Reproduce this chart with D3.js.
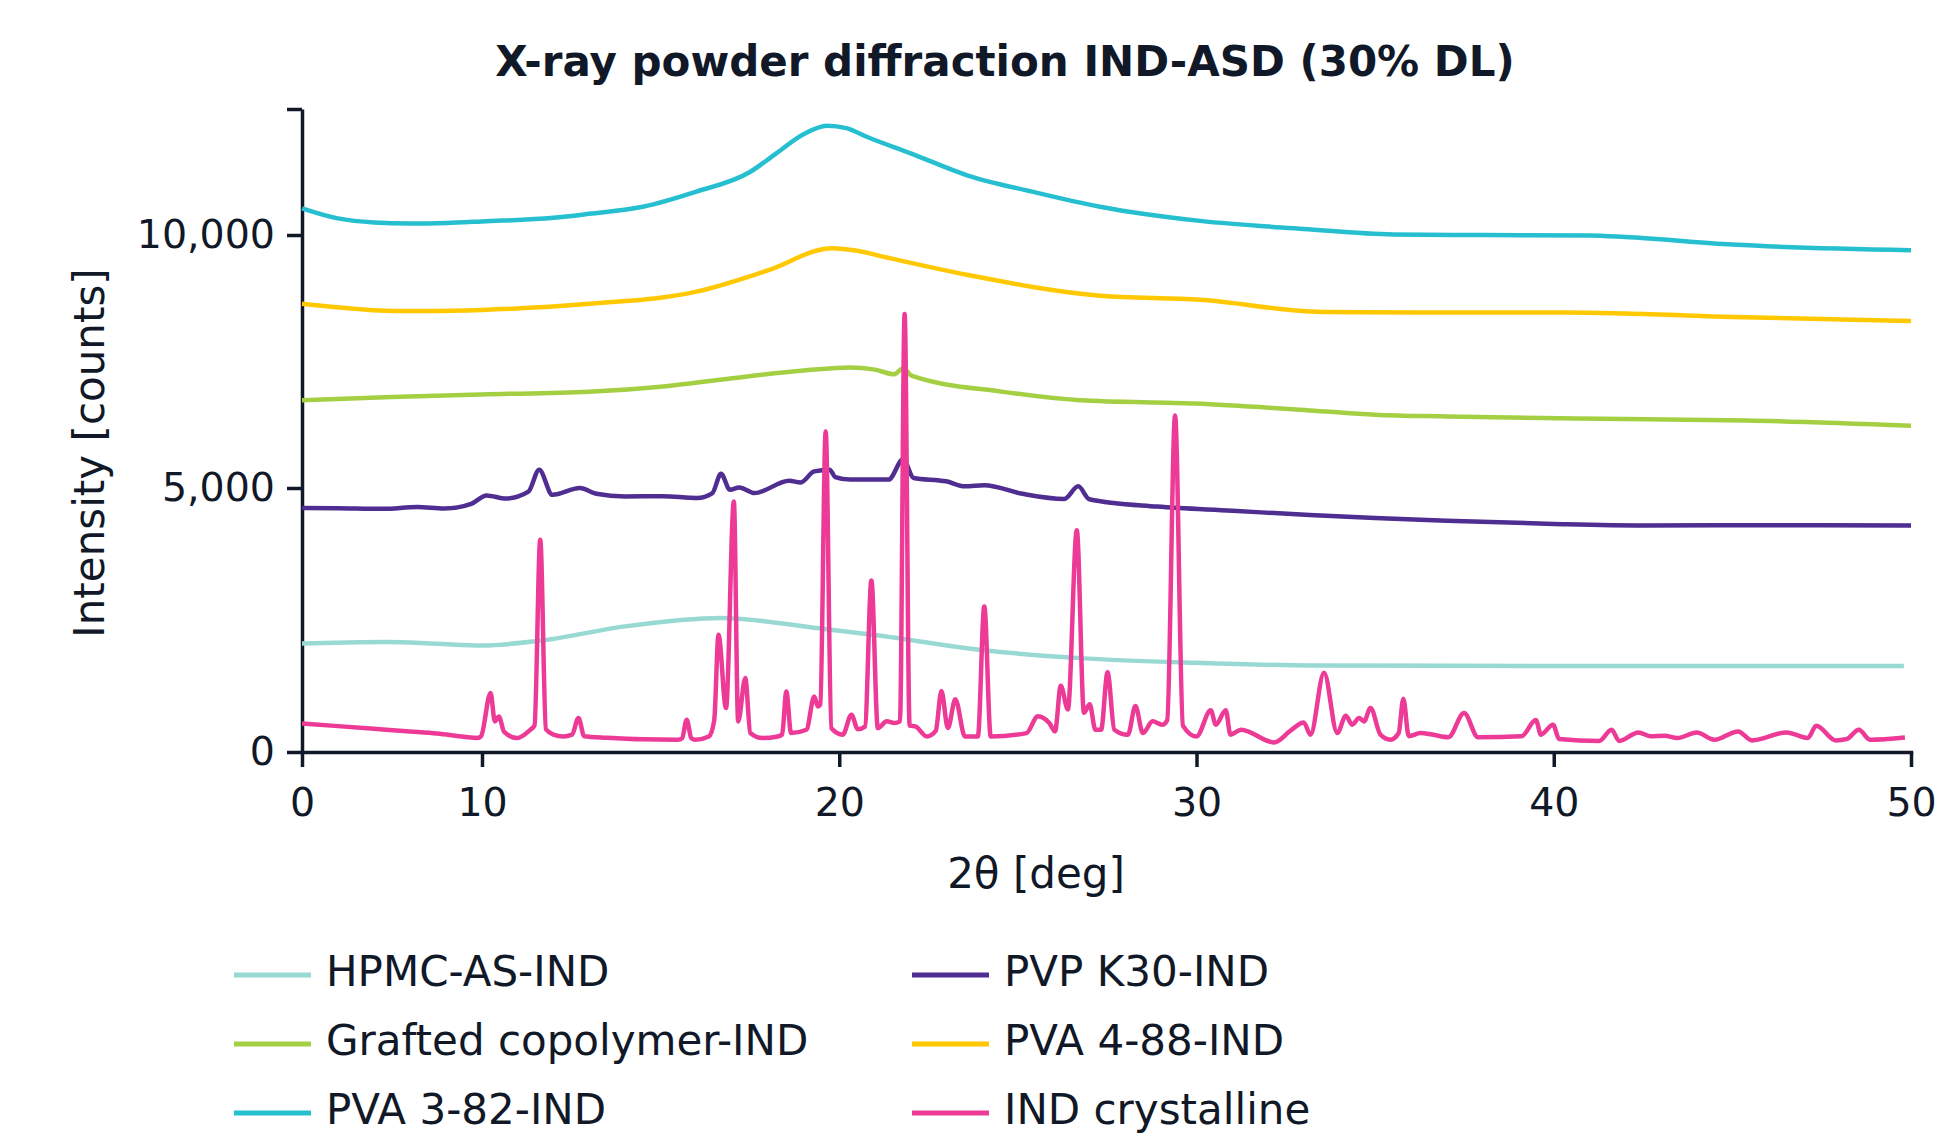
<!DOCTYPE html>
<html lang="en">
<head>
<meta charset="UTF-8">
<script src="https://d3js.org/d3.v7.min.js"></script>
<title>X-ray powder diffraction IND-ASD</title>
<style>
  body { margin: 0; background: #fff; }
  text { font-family: "DejaVu Sans", Verdana, sans-serif; fill: #111827; }
</style>
</head>
<body>
<svg width="1945" height="1136"></svg>
<script>
// series: [2θ, counts]
const hpmcAs = [
  [0, 2055], [2.5, 2075], [4.7, 2083], [7.5, 2050], [10, 2019], [11.7, 2114], [14, 2379],
  [16.7, 2538], [17.7, 2492], [19.35, 2348], [21.15, 2203], [24.06, 1926], [26.74, 1778],
  [29.96, 1689], [33.2, 1640], [40, 1630], [49.8, 1628]
];
const grafted = [
  [0, 6735], [5, 6800], [10, 6850], [13, 6900], [15, 7000], [17, 7170], [19, 7320],
  [20.31, 7383], [21.0, 7340], [21.54, 7248], [21.79, 7369], [22.02, 7220], [24.59, 6900],
  [26.74, 6735], [29.96, 6668], [33.17, 6534], [35, 6450], [37, 6413], [42, 6362], [45.4, 6335], [50, 6230]
];
const pva382 = [
  [0, 10530], [2, 10330], [4, 10250], [6, 10230], [8, 10240], [10, 10270], [12, 10340],
  [13, 10420], [14.5, 10560], [16, 10860], [17.5, 11250], [18.2, 11600], [19, 12000],
  [19.65, 12170], [20.2, 12120], [20.8, 11940], [22, 11620], [23.6, 11180], [25.4, 10860],
  [27.3, 10560], [30.1, 10280], [33, 10120], [35.5, 10010], [38, 10000], [41, 9990],
  [42, 9960], [45, 9810], [50, 9700]
];
const pvpK30 = [
  [0, 4620], [2, 4615], [4.5, 4605], [6.4, 4640], [7.9, 4610], [9.4, 4700], [10.13, 4860],
  [10.67, 4800], [11.3, 4930], [11.6, 5360], [11.97, 4870], [12.74, 5000], [13.2, 4890],
  [14, 4840], [15.06, 4845], [16.02, 4810], [16.45, 4905], [16.69, 5282], [16.94, 4967],
  [17.2, 5012], [17.63, 4905], [18.6, 5144], [18.92, 5110], [19.3, 5328], [19.73, 5361],
  [19.89, 5217], [20.3, 5166], [21.38, 5166], [21.79, 5567], [22.08, 5199], [22.99, 5132],
  [23.52, 5033], [24.06, 5053], [25.13, 4890], [26.3, 4793], [26.69, 5033], [27.0, 4788],
  [28.9, 4648], [31, 4570], [33.17, 4487], [35, 4430], [37, 4380], [40, 4320], [42.5, 4292],
  [45, 4295], [50, 4292]
];
const pva488 = [
  [0, 8640], [3, 8540], [5, 8500], [7, 8500], [10, 8520], [13, 8640], [16, 8880], [18, 9300],
  [19.8, 9740], [20.5, 9690], [21.3, 9560], [23.6, 9210], [27.3, 8800], [30.1, 8720],
  [33.5, 8480], [36, 8470], [40.4, 8470], [42, 8450], [45, 8380], [50, 8300]
];
const indCryst = [
  [0, 540], [2, 490], [4, 440], [6, 390], [7.5, 350], [9, 290], [9.75, 265], [9.95, 300],
  [10.24, 1117], [10.36, 580], [10.47, 674], [10.62, 380], [10.98, 265], [11.35, 420],
  [11.47, 500], [11.63, 4021], [11.79, 430], [12.0, 330], [12.27, 295], [12.52, 330],
  [12.7, 644], [12.86, 300], [13.5, 270], [14.5, 240], [15.49, 233], [15.6, 260], [15.73, 612],
  [15.86, 260], [15.97, 233], [16.35, 295], [16.5, 600], [16.62, 2222], [16.83, 833],
  [17.05, 4746], [17.17, 580], [17.37, 1402], [17.51, 360], [17.85, 265], [18.28, 295],
  [18.4, 330], [18.52, 1148], [18.65, 360], [19.08, 422], [19.3, 1053], [19.4, 864],
  [19.47, 900], [19.62, 6117], [19.78, 450], [20.1, 328], [20.34, 706], [20.52, 430],
  [20.72, 480], [20.9, 3250], [21.08, 453], [21.33, 581], [21.54, 549], [21.7, 580],
  [21.83, 8437], [21.97, 500], [22.13, 485], [22.45, 294], [22.7, 400], [22.86, 1157],
  [23.04, 453], [23.25, 998], [23.52, 294], [23.88, 294], [24.06, 2758], [24.24, 294],
  [25.24, 358], [25.56, 678], [25.88, 549], [26.04, 390], [26.2, 1254], [26.4, 805],
  [26.65, 4199], [26.85, 742], [27.01, 902], [27.17, 422], [27.33, 422], [27.51, 1509],
  [27.7, 422], [28.08, 326], [28.29, 869], [28.5, 358], [28.77, 581], [29.04, 517],
  [29.18, 600], [29.4, 6433], [29.62, 500], [30.0, 294], [30.4, 790], [30.54, 517],
  [30.82, 790], [30.95, 328], [31.25, 422], [32.17, 182], [32.64, 409], [33.0, 561],
  [33.19, 328], [33.57, 1500], [33.94, 360], [34.18, 688], [34.36, 517], [34.55, 644],
  [34.69, 580], [34.87, 835], [35.15, 328], [35.43, 233], [35.66, 360], [35.79, 1010],
  [35.94, 300], [36.27, 360], [36.6, 330], [37.05, 280], [37.49, 739], [37.88, 280],
  [39.1, 300], [39.5, 605], [39.64, 328], [39.98, 517], [40.15, 246], [41.27, 210],
  [41.62, 420], [41.83, 210], [42.37, 371], [42.7, 300], [43.1, 309], [43.46, 265],
  [44.0, 371], [44.5, 233], [45.16, 390], [45.55, 220], [46.52, 371], [47.11, 265],
  [47.35, 498], [47.89, 220], [48.2, 246], [48.54, 422], [48.85, 233], [49.83, 276]
];

const seriesNames = ['HPMC-AS-IND', 'PVP K30-IND', 'Grafted copolymer-IND', 'PVA 4-88-IND', 'PVA 3-82-IND', 'IND crystalline'];
const seriesColors = ['#99d9d4', '#4f2d91', '#a5cf43', '#ffc800', '#26bfd0', '#ec3a96'];
const seriesData = [hpmcAs, pvpK30, grafted, pva488, pva382, indCryst];
const drawOrder = [0, 2, 4, 3, 1, 5];

const xTicks = [0, 10, 20, 30, 40, 50];
const yTicks = [0, 5000, 10000, 12500];

let svg = d3.select('svg');
const ink = '#111827';

// axis scales (first x decade and upper y part are drawn compressed, as in the original)
let x = d3.scaleLinear().domain([0, 10, 50]).range([302, 482, 1911]);
let y = d3.scaleLinear().domain([0, 5000, 10000, 12500]).range([752, 488, 235, 109]);

// title
svg.append('text')
  .attr('x', 1005).attr('y', 76)
  .attr('text-anchor', 'middle')
  .style('font-size', '42px').style('font-weight', 'bold')
  .text('X-ray powder diffraction IND-ASD (30% DL)');

// axes
let gx = svg.append('g')
  .attr('transform', `translate(0,${y(0)})`)
  .call(d3.axisBottom(x).tickValues(xTicks).tickSize(15).tickSizeOuter(0).tickPadding(21));
let gy = svg.append('g')
  .attr('transform', `translate(${x(0)},0)`)
  .call(d3.axisLeft(y).tickValues(yTicks).tickSize(15).tickSizeOuter(0).tickPadding(12)
    .tickFormat(d => d === 12500 ? '' : d3.format(',')(d)));

[gx, gy].forEach(g => {
  g.selectAll('path, line').attr('stroke', ink).attr('stroke-width', 3.5);
  g.selectAll('text').style('font-size', '39.5px').style('font-family', '"DejaVu Sans", Verdana, sans-serif').attr('fill', ink);
});
gx.select('.domain').attr('stroke-linecap', 'square');

// axis titles
svg.append('text')
  .attr('transform', 'translate(104,453) rotate(-90)')
  .attr('text-anchor', 'middle')
  .style('font-size', '42px')
  .text('Intensity [counts]');
svg.append('text')
  .attr('x', 1036).attr('y', 888)
  .attr('text-anchor', 'middle')
  .style('font-size', '42px')
  .text('2θ [deg]');

// lines
let line = d3.line()
  .x(d => x(d[0]))
  .y(d => y(d[1]))
  .curve(d3.curveMonotoneX);

drawOrder.forEach(i => {
  svg.append('path')
    .datum(seriesData[i])
    .attr('fill', 'none')
    .attr('stroke', seriesColors[i])
    .attr('stroke-width', 4.5)
    .attr('stroke-linejoin', 'round')
    .attr('d', line);
});

// legend, two columns
let legend = svg.append('g');
seriesNames.forEach((name, i) => {
  let col = i % 2, row = Math.floor(i / 2);
  let lx = col === 0 ? 234 : 912;
  let ly = 975 + row * 69;
  legend.append('line')
    .attr('x1', lx).attr('x2', lx + 77)
    .attr('y1', ly).attr('y2', ly)
    .attr('stroke', seriesColors[i]).attr('stroke-width', 5);
  legend.append('text')
    .attr('x', lx + 92).attr('y', ly)
    .attr('dy', '0.27em')
    .style('font-size', '42px')
    .text(name);
});
</script>
</body>
</html>
